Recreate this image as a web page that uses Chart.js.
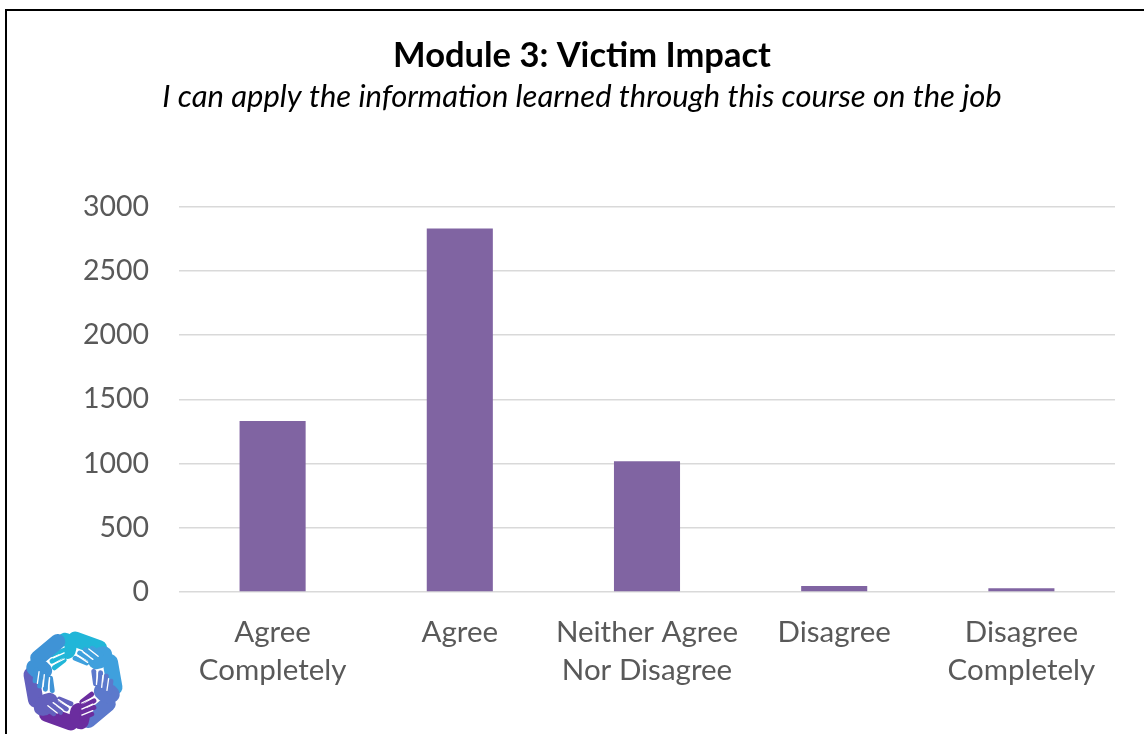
<!DOCTYPE html>
<html>
<head>
<meta charset="utf-8">
<title>Module 3: Victim Impact</title>
<script src="https://cdn.jsdelivr.net/npm/chart.js@4.4.0/dist/chart.umd.min.js"></script>
<style>
    html, body { margin: 0; padding: 0; background: #fff; overflow: hidden; }
    #wrap { position: relative; width: 1144px; height: 734px; }
    #frame { position: absolute; left: 5px; top: 9px; width: 1200px; height: 800px;
             border-left: 2px solid #000; border-top: 2px solid #000; pointer-events: none; }
    canvas { position: absolute; left: 0; top: 0; }
</style>
</head>
<body>
<div id="wrap">
    <canvas id="victimChart" width="1144" height="734"></canvas>
    <div id="frame"></div>
</div>
<script>
// chart data
const chartTitle = 'Module 3: Victim Impact';
const chartSubTitle = 'I can apply the information learned through this course on the job';
const answerLabels = [['Agree', 'Completely'], 'Agree', ['Neither Agree', 'Nor Disagree'], 'Disagree', ['Disagree', 'Completely']];
const answerCounts = [1332, 2830, 1018, 46, 30];
const yTickMax = 3000;
const yTickStep = 500;

// add function browser onload event
window.addEventListener('load', loadUI);

function loadUI() {
    drawVictimChart();
}

// little ring of hands logo in the bottom left corner
const logoPlugin = {
    id: 'logo',
    afterDraw(chart) {
        const ctx = chart.ctx;
        const cx = 73, cy = 681;
        const hands = [
            {a: -90, c: '#21b6d8'},
            {a: -30, c: '#3fa0dd'},
            {a: 30, c: '#5c79cc'},
            {a: 90, c: '#6b2d9f'},
            {a: 150, c: '#6360bd'},
            {a: 210, c: '#3f93d6'}
        ];
        ctx.save();
        ctx.lineCap = 'round';
        hands.forEach(h => {
            ctx.save();
            ctx.translate(cx, cy);
            ctx.scale(1.1, 1.1);
            ctx.rotate(h.a * Math.PI / 180);
            // arm, going round the ring
            ctx.strokeStyle = h.c;
            ctx.lineWidth = 14;
            ctx.beginPath();
            ctx.moveTo(30, 24);
            ctx.lineTo(38, 2);
            ctx.stroke();
            // palm
            ctx.fillStyle = h.c;
            ctx.beginPath();
            ctx.ellipse(32, -6, 12, 9, -0.2, 0, Math.PI * 2);
            ctx.fill();
            // fingers
            ctx.lineWidth = 4.5;
            for (let i = 0; i < 4; i++) {
                ctx.beginPath();
                ctx.moveTo(34 - i * 5, -8);
                ctx.lineTo(30 - i * 6, -20 + Math.abs(i - 1.5) * 2);
                ctx.stroke();
            }
            // white finger gaps
            ctx.strokeStyle = '#ffffff';
            ctx.lineWidth = 1.2;
            for (let i = 0; i < 3; i++) {
                ctx.beginPath();
                ctx.moveTo(31 - i * 5.5, -8);
                ctx.lineTo(27 - i * 6, -18);
                ctx.stroke();
            }
            ctx.restore();
        });
        ctx.restore();
    }
};

function drawVictimChart() {
    const ctx = document.getElementById('victimChart');

    new Chart(ctx, {
        type: 'bar',
        data: {
            labels: answerLabels,
            datasets: [{
                label: 'Responses',
                data: answerCounts,
                backgroundColor: '#8064a2',
                borderWidth: 0,
                categoryPercentage: 1,
                barPercentage: 0.353
            }]
        },
        plugins: [logoPlugin],
        options: {
            responsive: false,
            animation: false,
            devicePixelRatio: 1,
            // left/right padding keeps the titles centred like the original box
            layout: { padding: { left: 49, right: 29, top: 0, bottom: 0 } },
            plugins: {
                legend: { display: false },
                tooltip: { enabled: false },
                title: {
                    display: true,
                    text: chartTitle,
                    color: '#000000',
                    font: { family: 'Lato', size: 34.5, weight: 'bold', lineHeight: 1.2 },
                    padding: { top: 35, bottom: 2 }
                },
                subtitle: {
                    display: true,
                    text: chartSubTitle,
                    color: '#000000',
                    font: { family: 'Lato', size: 31, style: 'italic', lineHeight: 1.2 },
                    padding: { top: 0, bottom: 91 }
                }
            },
            scales: {
                x: {
                    grid: { display: false, drawTicks: false },
                    border: { display: false },
                    ticks: {
                        color: '#595959',
                        font: { family: 'Lato', size: 29.5, lineHeight: 1.3 },
                        padding: 21,
                        maxRotation: 0,
                        autoSkip: false
                    },
                    afterFit: (scale) => { scale.height = 142; }
                },
                y: {
                    min: 0,
                    max: yTickMax,
                    grid: { color: '#d9d9d9', lineWidth: 1.5, drawTicks: false },
                    border: { display: false },
                    ticks: {
                        stepSize: yTickStep,
                        color: '#595959',
                        font: { family: 'Lato', size: 28.5 },
                        padding: 30,
                        callback: (value) => String(value)
                    },
                    afterFit: (scale) => { scale.width = 130; }
                }
            }
        }
    });
}
</script>
</body>
</html>
